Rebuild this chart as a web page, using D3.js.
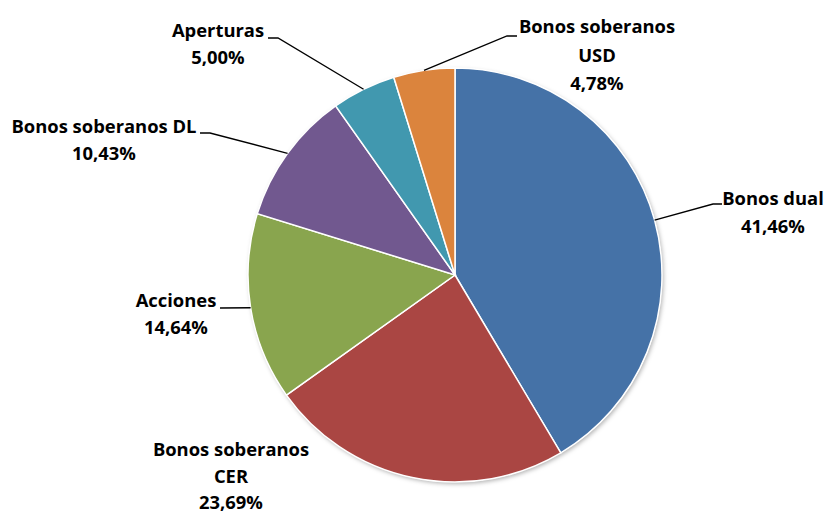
<!DOCTYPE html>
<html><head><meta charset="utf-8">
<script src="https://cdn.jsdelivr.net/npm/d3@7"></script>
<style>body{margin:0;background:#fff}svg{display:block}text{font-family:"Open Sans",sans-serif;font-weight:700;fill:#000}</style>
</head><body>
<svg id="c" width="826" height="513"></svg>
<script>
const categories = ["Bonos dual","Bonos soberanos CER","Acciones","Bonos soberanos DL","Aperturas","Bonos soberanos USD"];
const values = [41.46, 23.69, 14.64, 10.43, 5.00, 4.78];
const valueLabels = ["41,46%","23,69%","14,64%","10,43%","5,00%","4,78%"];
const colors = ["#4572A7","#AA4643","#89A54E","#71588F","#4198AF","#DB843D"];

// label layout: text lines, centre x, first baseline y, line step; leader elbow and end
const labelLines = [["Bonos dual"],["Bonos soberanos","CER"],["Acciones"],["Bonos soberanos DL"],["Aperturas"],["Bonos soberanos","USD"]];
const labelPos = [[773,205],[231,456],[176,307],[104,133],[218,37],[597,33]];
const lineStep = [27.5,26.5,27,27,26.5,28.5];
const leaderPts = [[[713,204],[722,204]],null,[[220,308],[220,308]],[[210,133],[200,133]],[[278,38],[268,38]],[[507,36],[517,36]]];

const svg = d3.select("#c");
const cx = 455, cy = 275, r = 207;
const defs = svg.append("defs");
const f = defs.append("filter").attr("id","sh").attr("x","-10%").attr("y","-10%").attr("width","120%").attr("height","120%");
f.append("feDropShadow").attr("dx",1.5).attr("dy",2).attr("stdDeviation",2).attr("flood-color","#000").attr("flood-opacity",0.3);

const pie = d3.pie().sort(null).value(d=>d)(values);
const arc = d3.arc().innerRadius(0).outerRadius(r);
const g = svg.append("g").attr("transform",`translate(${cx},${cy})`);
g.append("circle").attr("r",r).attr("fill","#fff").attr("filter","url(#sh)");
g.selectAll("path").data(pie).join("path")
  .attr("d",arc).attr("fill",(d,i)=>colors[i]).attr("stroke","#fff").attr("stroke-width",1.5);

// leaders
pie.forEach((d,i)=>{
  if(!leaderPts[i]) return;
  const a = (d.startAngle+d.endAngle)/2;
  const px = cx + r*Math.sin(a), py = cy - r*Math.cos(a);
  const [e1,e2] = leaderPts[i];
  svg.append("polyline").attr("points",`${px},${py} ${e1[0]},${e1[1]} ${e2[0]},${e2[1]}`)
    .attr("fill","none").attr("stroke","#000").attr("stroke-width",1.3);
});

// labels
categories.forEach((c,i)=>{
  const lines = labelLines[i].concat([valueLabels[i]]);
  const t = svg.append("text").attr("text-anchor","middle").attr("font-size",18.4);
  lines.forEach((l,j)=>{
    t.append("tspan").attr("x",labelPos[i][0]).attr("y",labelPos[i][1]+j*lineStep[i]).text(l);
  });
});
</script>
</body></html>
